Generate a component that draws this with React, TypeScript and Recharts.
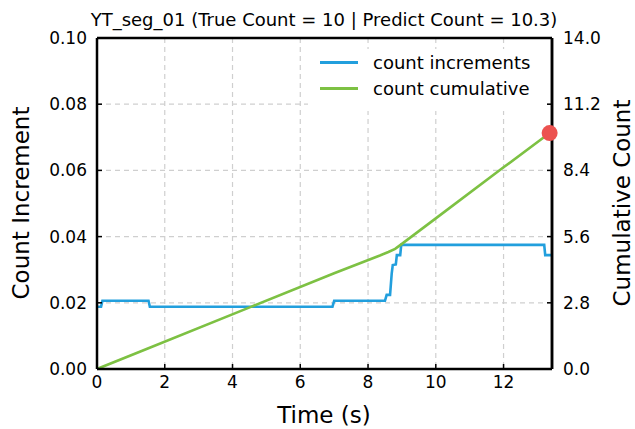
import React from 'react'
import { LineChart, Line, XAxis, YAxis, CartesianGrid, Legend, ReferenceLine, ReferenceDot, Label } from 'recharts'

// count increments (stepped signal)
const incTime = [0, 0.12, 0.16, 1.52, 1.56, 6.95, 7.0, 8.5, 8.55, 8.65, 8.7, 8.73, 8.82, 8.85, 8.95, 8.98, 13.2, 13.23, 13.43]
const incValue = [0.0188, 0.0188, 0.0206, 0.0206, 0.0188, 0.0188, 0.0206, 0.0206, 0.0224, 0.0224, 0.029, 0.0314, 0.0316, 0.0344, 0.0344, 0.0375, 0.0375, 0.0344, 0.0344]

// cumulative count
const cumTime = [0, 1.5, 4.56, 7.0, 8.35, 8.6, 8.8, 8.96, 10.0, 12.0, 13.36]
const cumValue = [0, 0.87, 2.64, 4.05, 4.8, 4.95, 5.08, 5.25, 6.37, 8.53, 9.98]

const xTicks = [0, 2, 4, 6, 8, 10, 12]
const leftTicks = [0, 0.02, 0.04, 0.06, 0.08, 0.1]
const rightTicks = [0, 2.8, 5.6, 8.4, 11.2, 14]
const xMax = 13.43

const title = 'YT_seg_01 (True Count = 10 | Predict Count = 10.3)'
const seriesNames = ['count increments', 'count cumulative']

const BLUE = '#229fdd'
const GREEN = '#7dc143'
const FONT = 'DejaVu Sans'

const incData = incTime.map((t, i) => ({ t, inc: incValue[i] }))
const cumData = cumTime.map((t, i) => ({ t, cum: cumValue[i] }))

const LegendBox = () => (
  <div style={{ background: '#fff', width: 238, height: 62, fontFamily: FONT, fontSize: 18, color: '#000' }}>
    {seriesNames.map((name, i) => (
      <div key={name} style={{ display: 'flex', alignItems: 'center', height: 26, marginTop: i === 0 ? 5 : 0 }}>
        <div style={{ width: 38, height: 3, background: i === 0 ? BLUE : GREEN, marginLeft: 12, marginRight: 15 }} />
        <span>{name}</span>
      </div>
    ))}
  </div>
)

const App = () => {
  return (
    <div style={{ position: 'absolute', left: 0, top: 0, width: 635, height: 429, background: '#fff' }}>
      <LineChart width={635} height={429} margin={{ top: 38, right: 23, bottom: 30, left: 37 }}>
        <CartesianGrid yAxisId="left" stroke="#cfcfcf" strokeDasharray="5 4" strokeWidth={1.2} />
        <XAxis
          dataKey="t"
          type="number"
          domain={[0, xMax]}
          ticks={xTicks}
          allowDataOverflow
          height={30}
          axisLine={{ stroke: '#000', strokeWidth: 2.5 }}
          tickLine={{ stroke: '#000', strokeWidth: 1.5 }}
          tickSize={-5}
          tickMargin={12}
          tick={{ fill: '#000', fontSize: 17, fontFamily: FONT }}
        >
          <Label
            content={() => (
              <text x={324} y={423} textAnchor="middle" fontFamily={FONT} fontSize={23} fill="#000">Time (s)</text>
            )}
          />
          <Label
            content={() => (
              <text x={324} y={26} textAnchor="middle" fontFamily={FONT} fontSize={18} fill="#000">{title}</text>
            )}
          />
        </XAxis>
        <YAxis
          yAxisId="left"
          domain={[0, 0.1]}
          ticks={leftTicks}
          width={60}
          axisLine={{ stroke: '#000', strokeWidth: 2.5 }}
          tickLine={{ stroke: '#000', strokeWidth: 1.5 }}
          tickSize={-5}
          tickMargin={15}
          tickFormatter={(v: number) => v.toFixed(2)}
          tick={{ fill: '#000', fontSize: 17, fontFamily: FONT }}
        >
          <Label
            content={() => (
              <text x={29} y={203} transform="rotate(-90 29 203)" textAnchor="middle" fontFamily={FONT} fontSize={23} fill="#000">Count Increment</text>
            )}
          />
        </YAxis>
        <YAxis
          yAxisId="right"
          orientation="right"
          domain={[0, 14]}
          ticks={rightTicks}
          width={60}
          axisLine={{ stroke: '#000', strokeWidth: 2.5 }}
          tickLine={{ stroke: '#000', strokeWidth: 1.5 }}
          tickSize={-5}
          tickMargin={16}
          tickFormatter={(v: number) => v.toFixed(1)}
          tick={{ fill: '#000', fontSize: 17, fontFamily: FONT }}
        >
          <Label
            content={() => (
              <text x={622} y={203} transform="rotate(-90 622 203)" textAnchor="middle" dominantBaseline="central" fontFamily={FONT} fontSize={23} fill="#000">Cumulative Count</text>
            )}
          />
        </YAxis>
        <ReferenceLine yAxisId="left" y={0.1} stroke="#000" strokeWidth={2.5} />
        <Line
          yAxisId="left"
          data={incData}
          dataKey="inc"
          type="linear"
          stroke={BLUE}
          strokeWidth={2.6}
          dot={false}
          isAnimationActive={false}
        />
        <Line
          yAxisId="right"
          data={cumData}
          dataKey="cum"
          type="linear"
          stroke={GREEN}
          strokeWidth={2.6}
          dot={false}
          isAnimationActive={false}
        />
        <ReferenceDot
          yAxisId="right"
          x={cumTime[cumTime.length - 1]}
          y={cumValue[cumValue.length - 1]}
          r={8}
          fill="#ec5250"
          stroke="none"
        />
        <ReferenceLine yAxisId="right" x={xMax} stroke="#000" strokeWidth={2.5} />
        <Legend
          layout="horizontal"
          align="center"
          verticalAlign="middle"
          content={() => <LegendBox />}
          wrapperStyle={{ left: 308, top: 44, width: 238, height: 62 }}
        />
      </LineChart>
    </div>
  )
}

export default App
